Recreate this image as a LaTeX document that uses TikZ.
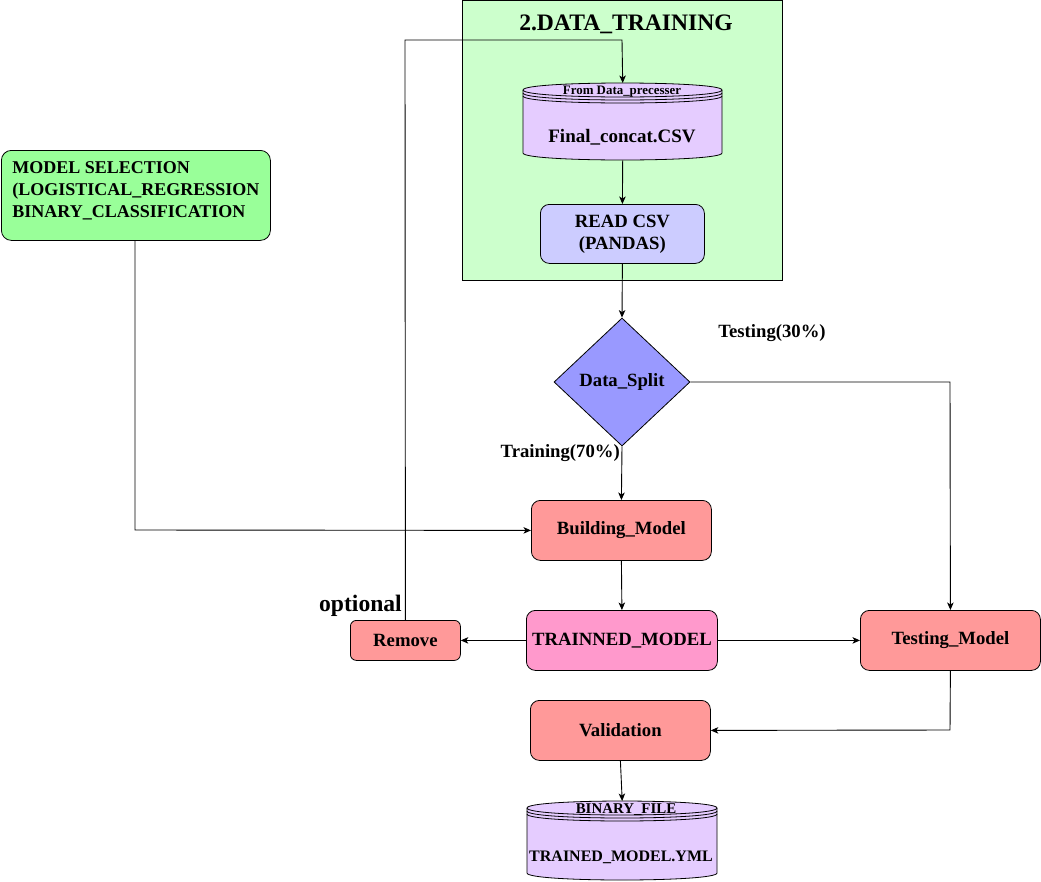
\documentclass[tikz,border=0pt]{standalone}
\usepackage{fontspec}
\setmainfont{Liberation Serif}
\usetikzlibrary{shapes.geometric,arrows.meta}
\definecolor{contgreen}{HTML}{CCFFCC}
\definecolor{cylpurple}{HTML}{E5CCFF}
\definecolor{readblue}{HTML}{CCCCFF}
\definecolor{splitblue}{HTML}{9999FF}
\definecolor{msgreen}{HTML}{99FF99}
\definecolor{boxred}{HTML}{FF9999}
\definecolor{boxpink}{HTML}{FF99CC}
\tikzset{
  mainfont/.style={font=\bfseries\fontsize{18.7}{22}\selectfont},
  procbox/.style={draw=black, line width=0.8pt, rounded corners=9pt, mainfont, align=center, inner sep=0pt, anchor=north west},
  flow/.style={draw=black, line width=0.9pt, -{Stealth[length=7.5pt,width=6.5pt,inset=2pt]}},
  plainline/.style={draw=black, line width=0.9pt},
  cylframe/.style={draw=black, line width=0.8pt, fill=cylpurple},
  lbl/.style={mainfont, inner sep=0pt}
}
\begin{document}
\begin{tikzpicture}[x=1pt,y=-1pt]
\useasboundingbox (0,0) rectangle (1041,881);

% container
\node (cont) [draw=black, line width=0.8pt, fill=contgreen, minimum width=320pt, minimum height=280pt, anchor=north west, inner sep=0pt] at (462,0) {};
\node (title) [font=\bfseries\fontsize{23.6}{26}\selectfont, inner sep=0pt] at (626,24) {2.DATA\_TRAINING};

% top datastore
\node (csv) [minimum width=199pt, minimum height=77pt, anchor=north west, inner sep=0pt] at (523,83) {};
\path[cylframe] (523,90) -- (523,153) .. controls (523,162.33) and (722,162.33) .. (722,153) -- (722,90) .. controls (722,80.67) and (523,80.67) .. (523,90) -- cycle;
\draw[line width=0.8pt] (523,90) .. controls (523,99.33) and (722,99.33) .. (722,90);
\draw[line width=0.8pt] (523,93) .. controls (523,102.33) and (722,102.33) .. (722,93);
\draw[line width=0.8pt] (523,96) .. controls (523,105.33) and (722,105.33) .. (722,96);
\node (csvtop) [font=\bfseries\fontsize{12.9}{14}\selectfont, inner sep=0pt] at (622,92) {From Data\_precesser};
\node (csvlbl) [font=\bfseries\fontsize{19}{22}\selectfont, inner sep=0pt] at (622,137) {Final\_concat.CSV};

% read csv
\node (read) [procbox, fill=readblue, minimum width=164pt, minimum height=59pt] at (540,204) {READ CSV\\(PANDAS)};

% diamond
\node (split) [draw=black, line width=0.8pt, fill=splitblue, diamond, minimum width=136pt, minimum height=128pt, inner sep=0pt, mainfont] at (622,382) {Data\_Split};
\node (testlbl) [lbl] at (772,333) {Testing(30\%)};
\node (trainlbl) [lbl, anchor=east] at (620,453) {Training(70\%)};

% model selection
\node (ms) [draw=black, line width=0.8pt, rounded corners=10pt, fill=msgreen, anchor=north west, inner xsep=11pt, inner ysep=11pt, font=\bfseries\fontsize{18}{22}\selectfont] at (1,150) {\parbox[c][68pt][t]{247pt}{\raggedright MODEL SELECTION\\(LOGISTICAL\_REGRESSION\\BINARY\_CLASSIFICATION}};

% building model
\node (build) [procbox, fill=boxred, minimum width=180pt, minimum height=60pt] at (531,500) {Building\_Model};
% trained model
\node (trained) [procbox, fill=boxpink, minimum width=191pt, minimum height=60pt] at (526,610) {TRAINNED\_MODEL};
% remove
\node (remove) [procbox, fill=boxred, rounded corners=6pt, minimum width=110pt, minimum height=40pt] at (350,620) {Remove};
\node (optional) [font=\bfseries\fontsize{23.6}{26}\selectfont, inner sep=0pt, anchor=east] at (402,606) {optional};
% testing model
\node (testm) [procbox, fill=boxred, minimum width=180pt, minimum height=60pt] at (860,610) {Testing\_Model};
% validation
\node (valid) [procbox, fill=boxred, minimum width=180pt, minimum height=60pt] at (530,700) {Validation};

% bottom datastore
\node (bin) [minimum width=190pt, minimum height=79pt, anchor=north west, inner sep=0pt] at (527,801) {};
\path[cylframe] (527,808) -- (527,873) .. controls (527,882.33) and (717,882.33) .. (717,873) -- (717,808) .. controls (717,798.67) and (527,798.67) .. (527,808) -- cycle;
\draw[line width=0.8pt] (527,808) .. controls (527,817.33) and (717,817.33) .. (717,808);
\draw[line width=0.8pt] (527,811) .. controls (527,820.33) and (717,820.33) .. (717,811);
\draw[line width=0.8pt] (527,814) .. controls (527,823.33) and (717,823.33) .. (717,814);
\node (bintop) [font=\bfseries\fontsize{14.9}{16}\selectfont, inner sep=0pt] at (626,810) {BINARY\_FILE};
\node (binlbl) [font=\bfseries\fontsize{16}{18}\selectfont, inner sep=0pt] at (621,857) {TRAINED\_MODEL.YML};

% connectors
\coordinate (loopA) at (405,40);
\coordinate (loopB) at (622,40);
\coordinate (msdown) at (135,530);
\coordinate (splitcorner) at (950,382);
\coordinate (testcorner) at (950,730);

\path[flow] (csv.south) -- (read.north);
\path[flow] (read.south) -- (split.north);
\path[flow] (split.south) -- (build.north);
\path[flow] (ms.south -| msdown) -- (msdown) -- (build.west);
\path[flow] (split.east) -- (splitcorner) -- (testm.north);
\path[flow] (build.south) -- (trained.north);
\path[flow] (trained.west) -- (remove.east);
\path[flow] (trained.east) -- (testm.west);
\path[flow] (remove.north) -- (loopA) -- (loopB) -- (csv.north);
\path[flow] (testm.south) -- (testcorner) -- (valid.east);
\path[flow] (valid.south) -- (bin.north);
\end{tikzpicture}
\end{document}
